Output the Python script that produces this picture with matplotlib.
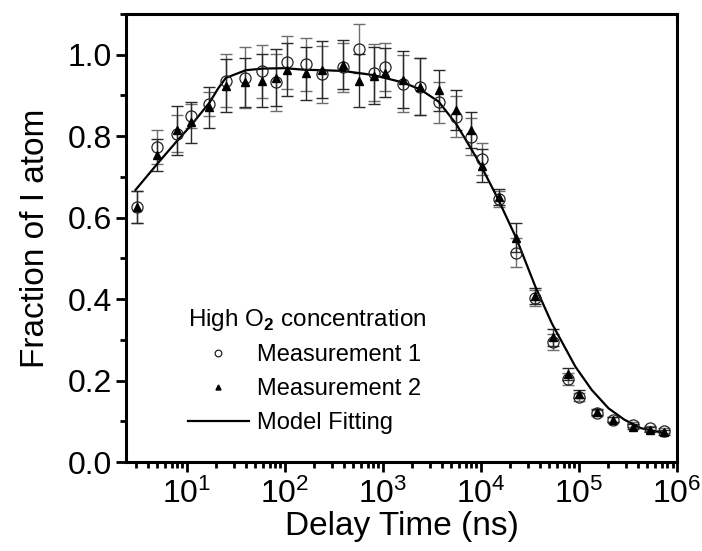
import matplotlib
matplotlib.use("Agg")
import matplotlib.pyplot as plt
from matplotlib.ticker import LogLocator, MultipleLocator, NullFormatter, FixedLocator

# ---- data ----
delay_ns = [3.1, 5.0, 8.0, 11, 17, 25, 39, 59, 82, 106, 163, 240, 390, 570, 810,
            1050, 1600, 2400, 3700, 5600, 7900, 10200, 15400, 22700, 36000, 54000,
            77000, 99000, 152000, 223000, 356000, 525000, 745000]
meas1 = [0.626, 0.773, 0.806, 0.850, 0.879, 0.936, 0.944, 0.959, 0.932, 0.981, 0.977,
         0.952, 0.969, 1.015, 0.956, 0.970, 0.929, 0.921, 0.883, 0.848, 0.799, 0.744,
         0.645, 0.514, 0.402, 0.294, 0.203, 0.159, 0.120, 0.104, 0.092, 0.083, 0.077]
err1 = [0.04, 0.042, 0.045, 0.03, 0.03, 0.065, 0.075, 0.065, 0.07, 0.065, 0.065, 0.07,
        0.06, 0.06, 0.07, 0.06, 0.07, 0.07, 0.05, 0.05, 0.045, 0.04, 0.02, 0.035, 0.02,
        0.02, 0.015, 0.01, 0.008, 0.006, 0.006, 0.006, 0.006]
meas2 = [0.626, 0.754, 0.814, 0.834, 0.871, 0.924, 0.932, 0.936, 0.943, 0.963, 0.954,
         0.963, 0.975, 0.936, 0.948, 0.956, 0.938, 0.921, 0.913, 0.864, 0.815, 0.728,
         0.650, 0.551, 0.408, 0.306, 0.216, 0.167, 0.123, 0.104, 0.087, 0.079, 0.073]
err2 = [0.04, 0.04, 0.06, 0.05, 0.05, 0.065, 0.06, 0.065, 0.07, 0.065, 0.065, 0.07,
        0.06, 0.065, 0.07, 0.06, 0.07, 0.07, 0.05, 0.05, 0.045, 0.04, 0.02, 0.035, 0.02,
        0.02, 0.015, 0.01, 0.008, 0.006, 0.006, 0.006, 0.006]
fit_x = [3.0, 5.0, 8.0, 11, 17, 21, 25, 40, 60, 100, 160, 250, 400, 800, 1600, 2400,
         3700, 5600, 7900, 10000, 15000, 23000, 36000, 53000, 92000, 135000, 200000,
         290000, 430000, 750000]
fit_y = [0.668, 0.732, 0.789, 0.826, 0.882, 0.918, 0.943, 0.962, 0.966, 0.967, 0.963,
         0.962, 0.960, 0.950, 0.932, 0.915, 0.885, 0.830, 0.770, 0.728, 0.645, 0.549,
         0.430, 0.340, 0.234, 0.177, 0.132, 0.104, 0.083, 0.071]
y_ticks = [0.0, 0.2, 0.4, 0.6, 0.8, 1.0]

plt.rcParams["font.family"] = ["Liberation Sans", "DejaVu Sans"]
plt.rcParams["mathtext.fontset"] = "custom"
plt.rcParams["mathtext.rm"] = "Liberation Sans"
plt.rcParams["mathtext.bf"] = "Liberation Sans:bold"

fig = plt.figure(figsize=(7.02, 5.51), dpi=100)
ax = fig.add_axes([126 / 702, 1 - 462 / 551, (677 - 126) / 702, (462 - 14) / 551])

ax.errorbar(delay_ns, meas1, yerr=err1, fmt="none", ecolor="#6e6e6e", elinewidth=1.0,
            capsize=4.5, capthick=1.0, zorder=2)
ax.errorbar(delay_ns, meas2, yerr=err2, fmt="none", ecolor="#2a2a2a", elinewidth=1.0,
            capsize=4.5, capthick=1.0, zorder=2)
ax.plot(fit_x, fit_y, color="black", lw=1.6, zorder=3, label="Model Fitting")
ax.plot(delay_ns, meas1, ls="none", marker="o", ms=8, mfc="none", mec="#222222",
        mew=0.9, zorder=4, label="Measurement 1")
ax.plot(delay_ns, meas2, ls="none", marker="^", ms=6, color="black", zorder=5,
        label="Measurement 2")

ax.set_xscale("log")
ax.set_xlim(2.4, 1e6)
ax.set_ylim(0, 1.1)
ax.yaxis.set_major_locator(FixedLocator(y_ticks))
ax.yaxis.set_minor_locator(MultipleLocator(0.1))
ax.xaxis.set_major_locator(LogLocator(base=10, numticks=20))
ax.xaxis.set_minor_locator(LogLocator(base=10, subs=range(2, 10), numticks=20))
ax.xaxis.set_minor_formatter(NullFormatter())
ax.set_yticklabels([f"{v:.1f}" for v in y_ticks])

for s in ax.spines.values():
    s.set_linewidth(2.2)
ax.tick_params(which="major", direction="out", length=7, width=2, labelsize=23,
               top=False, right=False, pad=3)
ax.tick_params(axis="x", which="major", pad=5)
ax.tick_params(which="minor", direction="out", length=4, width=2, top=False, right=False)

ax.set_xlabel("Delay Time (ns)", fontsize=24, labelpad=1)
ax.set_ylabel("Fraction of I atom", fontsize=24, labelpad=12)

handles, labels = ax.get_legend_handles_labels()
order = [1, 2, 0]
leg = ax.legend([handles[i] for i in order], [labels[i] for i in order],
                title=r"High O$_\mathbf{2}$ concentration", title_fontsize=17.5,
                fontsize=17, frameon=False, loc="upper left",
                bbox_to_anchor=(0.112, 0.347), handlelength=2.6, handletextpad=0.35,
                labelspacing=0.5, borderaxespad=0, borderpad=0, markerscale=0.6)
leg._legend_box.align = "left"

fig.savefig("out.png", dpi=100)
